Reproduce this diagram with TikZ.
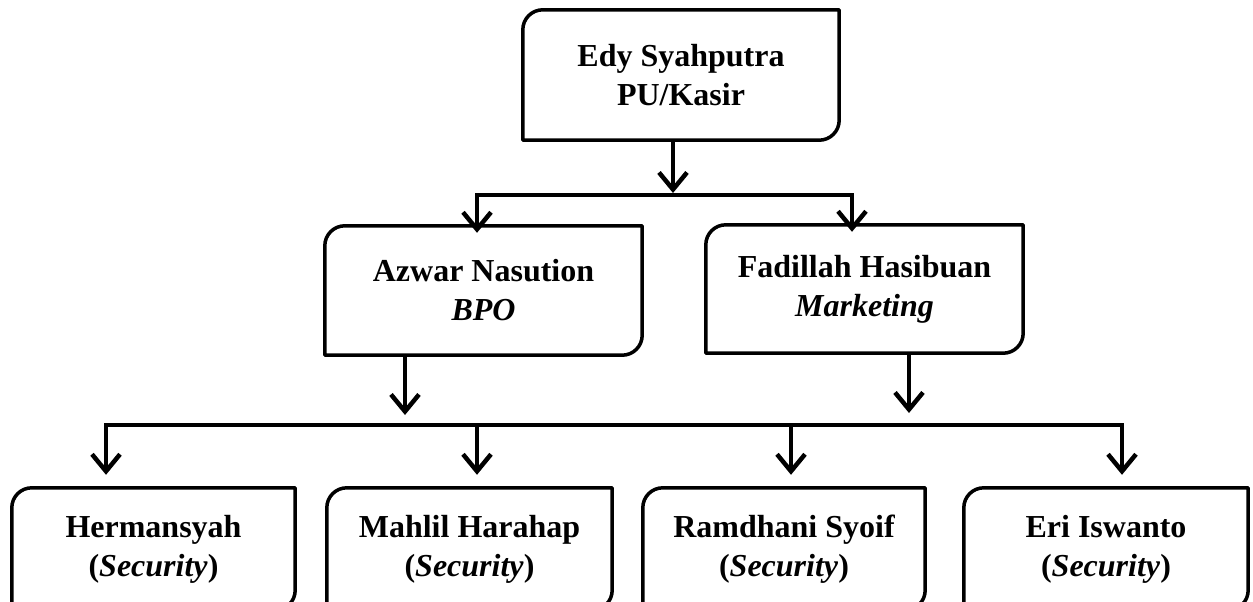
\documentclass[tikz,border=0pt]{standalone}
\usepackage{fontspec}
\setmainfont{Liberation Serif}
\usetikzlibrary{arrows.meta}

\tikzset{
  orgbox/.style={draw=none, inner sep=0pt, align=center,
    font=\fontsize{32}{39}\selectfont\bfseries},
  frame/.style={line width=3.5pt, line join=round},
  conn/.style={line width=4.5pt, line join=miter},
  arr/.style={conn, -{Straight Barb[length=17pt,width=28pt]}},
  arrboth/.style={conn, {Straight Barb[length=17pt,width=28pt]}-{Straight Barb[length=17pt,width=28pt]}},
}

\newcommand{\orgframe}[1]{%
  \draw[frame] (#1.south west) -- ([yshift=-20pt]#1.north west)
    arc[start angle=180,end angle=90,radius=20pt] -- (#1.north east)
    -- ([yshift=20pt]#1.south east)
    arc[start angle=0,end angle=-90,radius=20pt] -- cycle;}

\begin{document}
\begin{tikzpicture}[x=1pt,y=-1pt]
    \useasboundingbox (0,0) rectangle (1253,602);
    \clip (0,0) rectangle (1253,602);

    \node[orgbox, minimum width=316pt, minimum height=130pt] at (681,75) (Edy) {Edy Syahputra\\PU/Kasir};
    \node[orgbox, minimum width=317pt, minimum height=129pt] at (483.5,290.5) (Azw) {Azwar Nasution\\\textit{BPO}};
    \node[orgbox, minimum width=317pt, minimum height=128pt] at (864.5,289) (Fad) {Fadillah Hasibuan\\\textit{Marketing}};
    \node[orgbox, minimum width=283pt, minimum height=122pt] at (153.5,549) (Her) {Hermansyah\\(\textit{Security})};
    \node[orgbox, minimum width=285pt, minimum height=122pt] at (469.5,549) (Mah) {Mahlil Harahap\\(\textit{Security})};
    \node[orgbox, minimum width=282pt, minimum height=122pt] at (784,549) (Ram) {Ramdhani Syoif\\(\textit{Security})};
    \node[orgbox, minimum width=284pt, minimum height=122pt] at (1106,549) (Eri) {Eri Iswanto\\(\textit{Security})};

    \foreach \n in {Edy,Azw,Fad,Her,Mah,Ram,Eri}
        \orgframe{\n};

    \coordinate (topbar) at (673,195);
    \coordinate (barAzw) at (477,195);
    \coordinate (barFad) at (852,195);
    \coordinate (downAzw) at (405,415);
    \coordinate (downFad) at (909,413);
    \coordinate (barHer) at (106,425);
    \coordinate (barMah) at (477,425);
    \coordinate (barRam) at (791,425);
    \coordinate (barEri) at (1122,425);

    \draw[arr] (Edy.south -| topbar) -- ([yshift=2pt]topbar);
    \draw[arrboth] ([yshift=-7pt]barAzw |- Azw.north) -- (barAzw) -- (barFad) -- ([yshift=-7pt]barFad |- Fad.north);
    \draw[arr] (Azw.south -| downAzw) -- (downAzw);
    \draw[arr] (Fad.south -| downFad) -- (downFad);
    \draw[arrboth] ([yshift=13pt]barHer |- Her.north) -- (barHer) -- (barEri) -- ([yshift=13pt]barEri |- Eri.north);
    \draw[arr] (barMah) -- ([yshift=13pt]barMah |- Mah.north);
    \draw[arr] (barRam) -- ([yshift=13pt]barRam |- Ram.north);
\end{tikzpicture}
\end{document}
